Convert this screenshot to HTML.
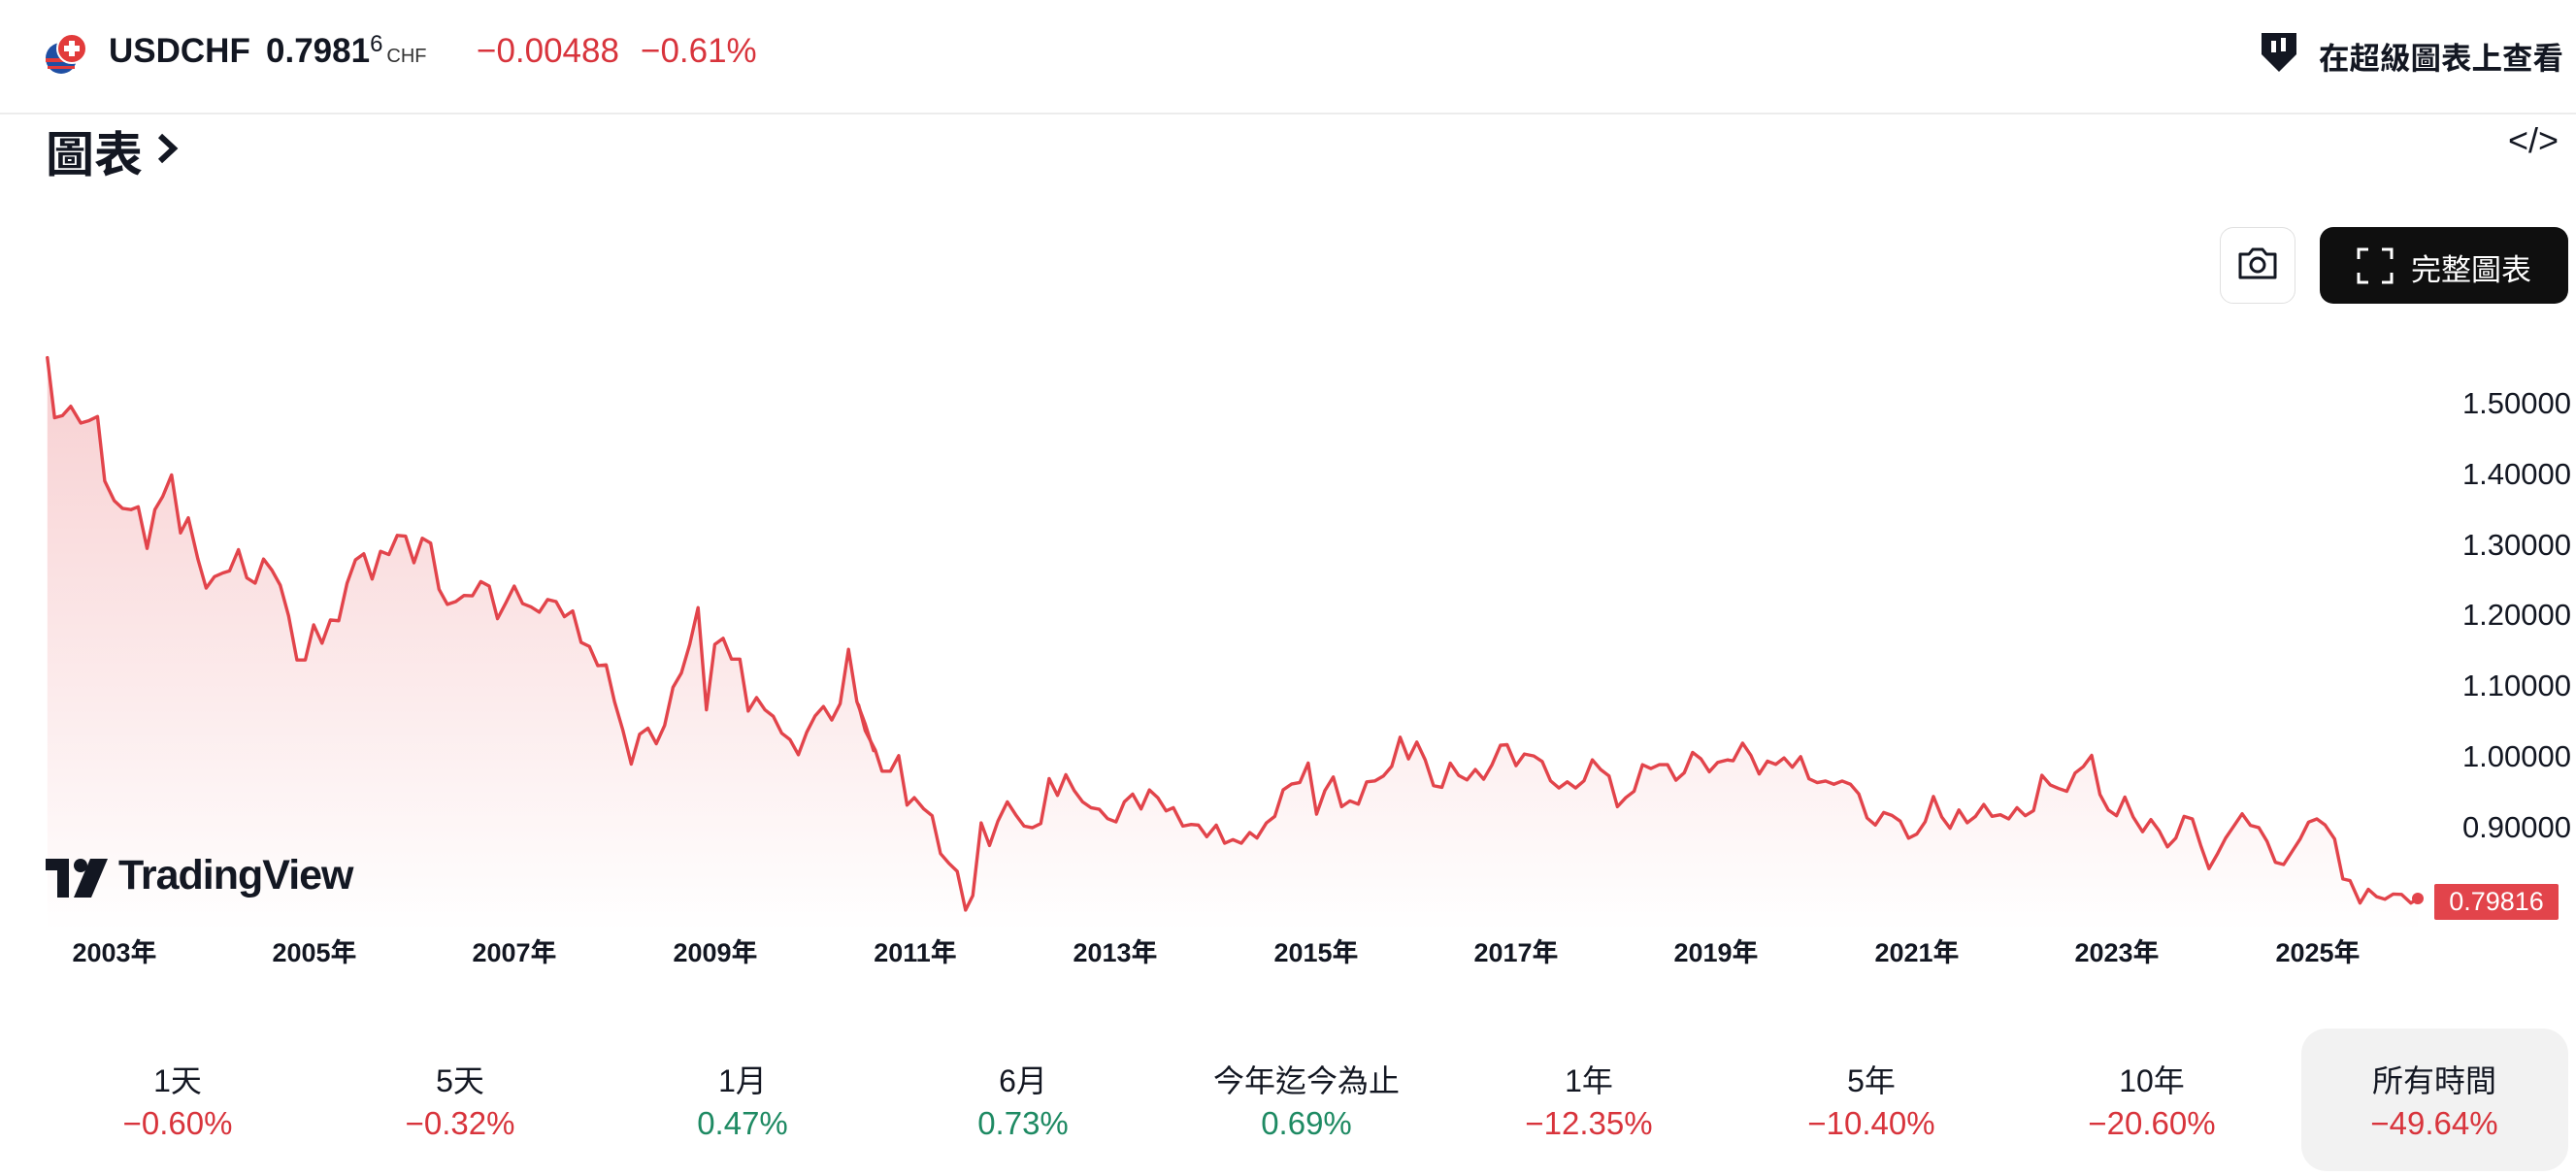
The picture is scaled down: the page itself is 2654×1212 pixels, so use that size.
<!DOCTYPE html>
<html><head><meta charset="utf-8">
<style>
html,body{margin:0;padding:0;background:#fff;}
body{width:2654px;height:1212px;position:relative;overflow:hidden;font-family:"Liberation Sans","Noto Sans CJK TC",sans-serif;color:#131722;}
.a{position:absolute;white-space:nowrap;}
.red{color:#d8343c;}
.grn{color:#1e8a63;}
.yl{position:absolute;right:5px;font-size:31px;color:#131722;transform:translateY(-50%);}
.xl{position:absolute;top:960px;font-size:27px;font-weight:bold;transform:translateX(-50%);}
.st{position:absolute;width:290px;text-align:center;transform:translateX(-50%);}
.sl{font-size:32px;}
.sv{font-size:33px;}
</style></head><body>
<!-- header -->
<svg class="a" style="left:44px;top:32px" width="48" height="48" viewBox="0 0 48 48">
<circle cx="19" cy="28" r="16" fill="#1f4fa3"/>
<path d="M3 28 h32 v4 h-32z M5 36 h28 v3 h-28z" fill="#e23b3b"/>
<circle cx="30" cy="18" r="15" fill="#e23b3b" stroke="#fff" stroke-width="2"/>
<path d="M27 10 h6 v5 h5 v6 h-5 v5 h-6 v-5 h-5 v-6 h5z" fill="#fff"/>
</svg>
<div class="a" style="left:112px;top:33px;font-size:35px;font-weight:bold;">USDCHF</div>
<div class="a" style="left:274px;top:33px;font-size:35px;font-weight:bold;">0.7981<span style="font-size:24px;position:relative;top:-11px;font-weight:normal">6</span><span style="font-size:20px;font-weight:normal;margin-left:4px;color:#333">CHF</span></div>
<div class="a red" style="left:491px;top:33px;font-size:35px;">−0.00488</div>
<div class="a red" style="left:660px;top:33px;font-size:35px;">−0.61%</div>
<svg class="a" style="left:2326px;top:30px" width="44" height="48" viewBox="0 0 44 48">
<path d="M4 4 h36 v22 l-18 18 l-18 -18z" fill="#131722"/>
<rect x="14" y="12" width="5" height="12" fill="#fff"/><rect x="24" y="9" width="5" height="14" fill="#fff"/>
</svg>
<div class="a" style="left:2389px;top:35px;font-size:31.5px;font-weight:bold;">在超級圖表上查看</div>
<div class="a" style="left:0;top:116px;width:2654px;height:2px;background:#ececec"></div>
<div class="a" style="left:47px;top:120px;font-size:50px;font-weight:bold;">圖表</div>
<svg class="a" style="left:160px;top:136px" width="26" height="34" viewBox="0 0 26 34"><path d="M5 4 L19 17 L5 30" fill="none" stroke="#131722" stroke-width="6"/></svg>
<div class="a" style="left:2584px;top:124px;font-size:36px;">&lt;/&gt;</div>
<!-- buttons -->
<div class="a" style="left:2287px;top:234px;width:76px;height:77px;border:1px solid #e0e0e0;border-radius:14px;"></div>
<svg class="a" style="left:2304px;top:254px" width="44" height="36" viewBox="0 0 44 36"><path d="M4 8 h9 l4 -5 h10 l4 5 h9 v24 h-36z" fill="none" stroke="#131722" stroke-width="3" stroke-linejoin="round"/><circle cx="22" cy="19" r="7" fill="none" stroke="#131722" stroke-width="3"/></svg>
<div class="a" style="left:2390px;top:234px;width:256px;height:79px;background:#0f0f0f;border-radius:14px;"></div>
<svg class="a" style="left:2428px;top:255px" width="38" height="38" viewBox="0 0 38 38" fill="none" stroke="#fff" stroke-width="3"><path d="M2 12 v-10 h10 M26 2 h10 v10 M36 26 v10 h-10 M12 36 h-10 v-10"/></svg>
<div class="a" style="left:2484px;top:253px;font-size:31px;color:#fff;">完整圖表</div>
<!-- chart -->
<svg class="a" style="left:0;top:0" width="2654" height="1212">
<defs>
<linearGradient id="gr" gradientUnits="userSpaceOnUse" x1="0" y1="360" x2="0" y2="960">
<stop offset="0" stop-color="#e2444b" stop-opacity="0.26"/>
<stop offset="1" stop-color="#e2444b" stop-opacity="0.0"/>
</linearGradient>
<clipPath id="cp">
<polygon transform="translate(0,340) scale(0.574,0.421)" points="85,68 98,215 112,210 127,187 145,228 160,222 175,212 188,370 205,418 220,437 235,440 248,433 264,535 278,440 292,408 308,355 324,497 338,460 355,560 370,632 385,604 400,595 412,590 428,538 443,607 458,620 473,561 488,588 503,625 518,700 533,808 548,808 563,722 578,767 593,710 608,712 623,620 638,563 653,548 668,610 683,542 698,550 713,503 728,505 743,570 758,510 773,522 788,635 803,672 818,665 833,650 848,651 863,616 878,627 893,707 908,668 923,627 938,670 953,678 968,691 983,660 998,665 1013,702 1028,688 1043,765 1058,775 1073,822 1088,820 1103,910 1118,980 1133,1063 1148,990 1163,975 1178,1013 1193,968 1208,875 1223,840 1238,770 1253,680 1268,930 1283,770 1298,755 1313,806 1328,806 1343,933 1358,900 1373,930 1388,946 1403,987 1418,1003 1433,1040 1448,985 1463,945 1478,922 1493,955 1508,915 1523,782 1538,910 1553,965 1568,1030 1568,1473 85,1473"/>
<polygon transform="translate(880,560) scale(0.574,0.333)" points="0,405 8,500 20,580 38,640 50,705 65,705 80,657 95,810 108,787 125,822 140,843 155,960 170,990 185,1015 200,1135 213,1090 228,865 243,935 258,860 275,800 290,840 305,875 320,880 335,867 350,728 365,780 380,716 395,765 410,800 425,818 440,823 455,852 470,862 485,800 500,776 515,822 530,763 545,787 560,828 573,818 590,875 605,870 618,872 633,908 650,872 665,928 680,917 695,928 710,895 723,912 740,865 755,845 770,763 785,745 800,740 815,680 830,838 845,765 860,723 875,815 890,797 905,807 920,738 935,735 950,720 965,690 980,600 995,667 1010,615 1025,670 1040,750 1055,755 1070,680 1085,718 1100,732 1115,700 1130,730 1145,685 1160,625 1172,623 1188,688 1203,652 1220,658 1235,675 1250,735 1265,757 1280,738 1295,757 1310,735 1325,670 1340,700 1355,720 1370,815 1385,787 1400,767 1415,685 1430,697 1445,685 1460,685 1475,733 1490,710 1505,647 1520,667 1535,707 1550,678 1568,670 1568,1201 0,1201"/>
<polygon transform="translate(1760,560) scale(0.570,0.331)" points="0,705 15,678 30,670 45,677 62,622 77,660 92,718 107,678 122,688 137,668 152,697 167,664 182,733 197,745 212,740 227,750 242,740 257,750 272,780 287,855 302,877 317,838 332,847 347,865 362,918 377,905 392,867 407,788 422,852 437,887 453,830 468,870 483,850 498,813 513,850 528,845 543,858 558,823 573,848 588,832 603,722 618,752 633,763 648,772 663,715 678,695 693,660 708,782 723,830 738,848 753,790 768,852 785,898 800,860 815,895 830,945 845,918 860,850 875,858 890,940 905,1013 920,968 935,918 950,880 965,842 980,878 995,885 1010,928 1025,993 1040,1000 1055,960 1070,920 1085,868 1100,858 1115,877 1132,920 1147,1045 1160,1050 1178,1120 1193,1077 1208,1100 1223,1108 1238,1092 1253,1093 1270,1120 1283,1106 1283,1208 0,1208"/>
</clipPath>
</defs>
<rect x="40" y="340" width="2480" height="640" fill="url(#gr)" clip-path="url(#cp)"/>
<g fill="none" stroke="#e2444b" stroke-width="3.4" stroke-linejoin="round" stroke-linecap="round">
<polyline vector-effect="non-scaling-stroke" transform="translate(0,340) scale(0.574,0.421)" points="85,68 98,215 112,210 127,187 145,228 160,222 175,212 188,370 205,418 220,437 235,440 248,433 264,535 278,440 292,408 308,355 324,497 338,460 355,560 370,632 385,604 400,595 412,590 428,538 443,607 458,620 473,561 488,588 503,625 518,700 533,808 548,808 563,722 578,767 593,710 608,712 623,620 638,563 653,548 668,610 683,542 698,550 713,503 728,505 743,570 758,510 773,522 788,635 803,672 818,665 833,650 848,651 863,616 878,627 893,707 908,668 923,627 938,670 953,678 968,691 983,660 998,665 1013,702 1028,688 1043,765 1058,775 1073,822 1088,820 1103,910 1118,980 1133,1063 1148,990 1163,975 1178,1013 1193,968 1208,875 1223,840 1238,770 1253,680 1268,930 1283,770 1298,755 1313,806 1328,806 1343,933 1358,900 1373,930 1388,946 1403,987 1418,1003 1433,1040 1448,985 1463,945 1478,922 1493,955 1508,915 1523,782 1538,910 1553,965 1568,1030"/>
<polyline vector-effect="non-scaling-stroke" transform="translate(880,560) scale(0.574,0.333)" points="8,500 20,580 38,640 50,705 65,705 80,657 95,810 108,787 125,822 140,843 155,960 170,990 185,1015 200,1135 213,1090 228,865 243,935 258,860 275,800 290,840 305,875 320,880 335,867 350,728 365,780 380,716 395,765 410,800 425,818 440,823 455,852 470,862 485,800 500,776 515,822 530,763 545,787 560,828 573,818 590,875 605,870 618,872 633,908 650,872 665,928 680,917 695,928 710,895 723,912 740,865 755,845 770,763 785,745 800,740 815,680 830,838 845,765 860,723 875,815 890,797 905,807 920,738 935,735 950,720 965,690 980,600 995,667 1010,615 1025,670 1040,750 1055,755 1070,680 1085,718 1100,732 1115,700 1130,730 1145,685 1160,625 1172,623 1188,688 1203,652 1220,658 1235,675 1250,735 1265,757 1280,738 1295,757 1310,735 1325,670 1340,700 1355,720 1370,815 1385,787 1400,767 1415,685 1430,697 1445,685 1460,685 1475,733 1490,710 1505,647 1520,667 1535,707 1550,678 1568,670"/>
<polyline vector-effect="non-scaling-stroke" transform="translate(1760,560) scale(0.570,0.331)" points="37,675 45,677 62,622 77,660 92,718 107,678 122,688 137,668 152,697 167,664 182,733 197,745 212,740 227,750 242,740 257,750 272,780 287,855 302,877 317,838 332,847 347,865 362,918 377,905 392,867 407,788 422,852 437,887 453,830 468,870 483,850 498,813 513,850 528,845 543,858 558,823 573,848 588,832 603,722 618,752 633,763 648,772 663,715 678,695 693,660 708,782 723,830 738,848 753,790 768,852 785,898 800,860 815,895 830,945 845,918 860,850 875,858 890,940 905,1013 920,968 935,918 950,880 965,842 980,878 995,885 1010,928 1025,993 1040,1000 1055,960 1070,920 1085,868 1100,858 1115,877 1132,920 1147,1045 1160,1050 1178,1120 1193,1077 1208,1100 1223,1108 1238,1092 1253,1093 1270,1120 1283,1106"/>
</g>
<circle cx="2491" cy="926" r="6" fill="#e2444b"/>
</svg>
<!-- y labels -->
<div class="yl" style="top:416px">1.50000</div>
<div class="yl" style="top:489px">1.40000</div>
<div class="yl" style="top:562px">1.30000</div>
<div class="yl" style="top:634px">1.20000</div>
<div class="yl" style="top:707px">1.10000</div>
<div class="yl" style="top:780px">1.00000</div>
<div class="yl" style="top:853px">0.90000</div>
<div class="a" style="left:2508px;top:911px;width:128px;height:37px;background:#e2444b;color:#fff;font-size:27px;line-height:37px;text-align:center;border-radius:2px;">0.79816</div>
<!-- x labels -->
<div class="xl" style="left:118px">2003年</div>
<div class="xl" style="left:324px">2005年</div>
<div class="xl" style="left:530px">2007年</div>
<div class="xl" style="left:737px">2009年</div>
<div class="xl" style="left:943px">2011年</div>
<div class="xl" style="left:1149px">2013年</div>
<div class="xl" style="left:1356px">2015年</div>
<div class="xl" style="left:1562px">2017年</div>
<div class="xl" style="left:1768px">2019年</div>
<div class="xl" style="left:1975px">2021年</div>
<div class="xl" style="left:2181px">2023年</div>
<div class="xl" style="left:2388px">2025年</div>
<!-- logo -->
<svg class="a" style="left:47px;top:885px" width="66" height="40" viewBox="0 0 66 40">
<path d="M0 0 h24 v40 h-12 v-28 h-12z" fill="#131722"/><circle cx="36" cy="7" r="7" fill="#131722"/><path d="M46 0 h18 l-17 40 h-18z" fill="#131722"/></svg>
<div class="a" style="left:122px;top:878px;font-size:43px;font-weight:bold;letter-spacing:-1px;color:#131722;">TradingView</div>
<!-- stats -->
<div class="a" style="left:2371px;top:1060px;width:275px;height:147px;background:#f2f2f2;border-radius:26px;"></div>
<div class="st sl" style="left:183px;top:1089px">1天</div><div class="st sv red" style="left:183px;top:1139px">−0.60%</div>
<div class="st sl" style="left:474px;top:1089px">5天</div><div class="st sv red" style="left:474px;top:1139px">−0.32%</div>
<div class="st sl" style="left:765px;top:1089px">1月</div><div class="st sv grn" style="left:765px;top:1139px">0.47%</div>
<div class="st sl" style="left:1054px;top:1089px">6月</div><div class="st sv grn" style="left:1054px;top:1139px">0.73%</div>
<div class="st sl" style="left:1346px;top:1089px">今年迄今為止</div><div class="st sv grn" style="left:1346px;top:1139px">0.69%</div>
<div class="st sl" style="left:1637px;top:1089px">1年</div><div class="st sv red" style="left:1637px;top:1139px">−12.35%</div>
<div class="st sl" style="left:1928px;top:1089px">5年</div><div class="st sv red" style="left:1928px;top:1139px">−10.40%</div>
<div class="st sl" style="left:2217px;top:1089px">10年</div><div class="st sv red" style="left:2217px;top:1139px">−20.60%</div>
<div class="st sl" style="left:2508px;top:1089px">所有時間</div><div class="st sv red" style="left:2508px;top:1139px">−49.64%</div>
</body></html>
